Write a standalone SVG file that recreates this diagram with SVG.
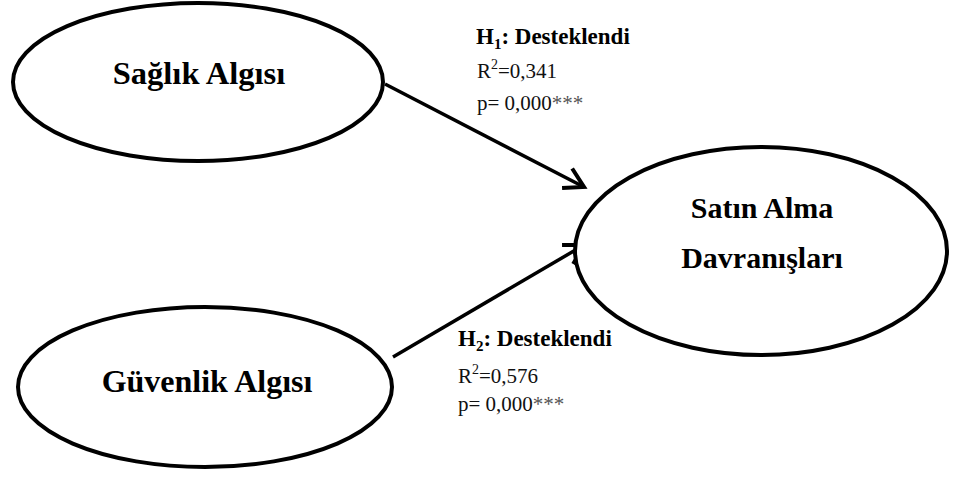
<svg xmlns="http://www.w3.org/2000/svg" width="953" height="477" viewBox="0 0 953 477">
<style>
.node{fill:#fff;stroke:#000;stroke-width:4}
.nt{font-family:"Liberation Serif","Times New Roman",serif;font-weight:bold;fill:#000;text-anchor:middle}
.lh{font-family:"Liberation Serif","Times New Roman",serif;font-weight:bold;font-size:23px;fill:#000}
.lr{font-family:"Liberation Serif","Times New Roman",serif;font-size:21px;fill:#111}
.ast{fill:#555}
.edge{stroke:#000;stroke-width:3.5;fill:none}
</style>
<defs>
<marker id="chev" markerUnits="userSpaceOnUse" markerWidth="30" markerHeight="30" refX="0" refY="0" orient="auto" overflow="visible" viewBox="-25 -15 30 30">
<path d="M-19,-11 L0,0 L-19,11" fill="none" stroke="#000" stroke-width="4" stroke-linejoin="miter"/>
</marker>
</defs>
<g id="connectors">
<line class="edge" x1="385" y1="84" x2="584" y2="187" marker-end="url(#chev)"/>
<line class="edge" x1="393" y1="357" x2="584" y2="245" marker-end="url(#chev)"/>
</g>
<g id="node-saglik">
<ellipse class="node" cx="198" cy="82" rx="185" ry="79"/>
<text class="nt" x="199" y="84" font-size="32.5">Sağlık Algısı</text>
</g>
<g id="node-guvenlik">
<ellipse class="node" cx="205" cy="387" rx="187" ry="80"/>
<text class="nt" x="207" y="392" font-size="32">Güvenlik Algısı</text>
</g>
<g id="node-satin">
<ellipse class="node" cx="761" cy="251" rx="186" ry="104"/>
<text class="nt" x="762" y="218" font-size="30">Satın Alma</text>
<text class="nt" x="762" y="268" font-size="30">Davranışları</text>
</g>
<g id="label-h1">
<text class="lh" x="476" y="44">H<tspan font-size="15" dy="5">1</tspan><tspan dy="-5">: Desteklendi</tspan></text>
<text class="lr" x="477" y="78">R<tspan font-size="14" dy="-9">2</tspan><tspan dy="9">=0,341</tspan></text>
<text class="lr" x="477" y="110">p= 0,000<tspan class="ast">***</tspan></text>
</g>
<g id="label-h2">
<text class="lh" x="458" y="346">H<tspan font-size="15" dy="5">2</tspan><tspan dy="-5">: Desteklendi</tspan></text>
<text class="lr" x="458" y="383">R<tspan font-size="14" dy="-9">2</tspan><tspan dy="9">=0,576</tspan></text>
<text class="lr" x="458" y="411">p= 0,000<tspan class="ast">***</tspan></text>
</g>
</svg>
